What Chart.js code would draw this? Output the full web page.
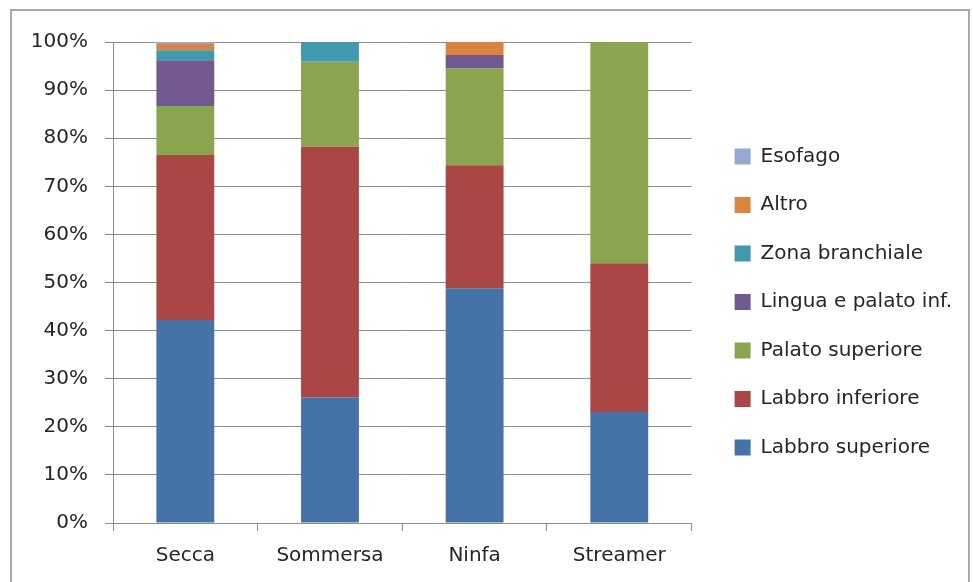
<!DOCTYPE html>
<html>
<head>
<meta charset="utf-8">
<script src="https://cdn.jsdelivr.net/npm/chart.js@4/dist/chart.umd.min.js"></script>
<style>
    html, body { margin: 0; padding: 0; background: #fff; }
    #wrap { position: relative; width: 973px; height: 582px; overflow: hidden; }
    #frame {
        position: absolute; left: 10px; top: 9px; width: 956px; height: 600px;
        border: 2px solid #a8a8a8;
    }
    #chart { position: absolute; left: 0; top: 0; }
</style>
</head>
<body>
<div id="wrap">
    <div id="frame"></div>
    <canvas id="chart" width="973" height="582"></canvas>
</div>
<script>
// Bait types on the x axis
const categories = ['Secca', 'Sommersa', 'Ninfa', 'Streamer'];

// Hook position shares (%), one array per zone, stacked bottom to top
const labbroSuperiore = [42.2, 26.1, 48.8, 23.1];
const labbroInferiore = [34.3, 52.1, 25.6, 30.9];
const palatoSuperiore = [10.2, 17.7, 20.1, 46.0];
const linguaPalatoInf = [9.5, 0, 2.8, 0];
const zonaBranchiale = [2.1, 4.1, 0, 0];
const altro = [1.3, 0, 2.7, 0];
const esofago = [0.4, 0, 0, 0];

const yTicks = [0, 10, 20, 30, 40, 50, 60, 70, 80, 90, 100];

const series = [
    { label: 'Labbro superiore', data: labbroSuperiore, color: '#4572a7' },
    { label: 'Labbro inferiore', data: labbroInferiore, color: '#aa4643' },
    { label: 'Palato superiore', data: palatoSuperiore, color: '#89a54e' },
    { label: 'Lingua e palato inf.', data: linguaPalatoInf, color: '#71588f' },
    { label: 'Zona branchiale', data: zonaBranchiale, color: '#4198af' },
    { label: 'Altro', data: altro, color: '#db843d' },
    { label: 'Esofago', data: esofago, color: '#93a9cf' }
];

const gridColor = '#8c8c8c';
const textColor = '#262626';
const font = { family: '"DejaVu Sans", sans-serif', size: 20 };

new Chart(document.getElementById('chart').getContext('2d'), {
    type: 'bar',
    data: {
        labels: categories,
        datasets: series.map(s => ({
            label: s.label,
            data: s.data,
            backgroundColor: s.color,
            borderWidth: 0,
            barPercentage: 0.4,
            categoryPercentage: 1
        }))
    },
    options: {
        responsive: false,
        animation: false,
        layout: { padding: { left: 0, top: 42, right: 11, bottom: 20 } },
        plugins: {
            tooltip: { enabled: false },
            legend: {
                position: 'right',
                reverse: true,
                maxWidth: 320,
                labels: {
                    color: textColor,
                    font: font,
                    boxWidth: 16,
                    boxHeight: 16,
                    padding: 28.5
                }
            }
        },
        scales: {
            x: {
                stacked: true,
                afterFit: scale => { scale.height = 39; },
                grid: {
                    display: true,
                    offset: true,
                    drawOnChartArea: false,
                    color: gridColor,
                    tickLength: 8
                },
                border: { color: gridColor },
                ticks: { color: textColor, font: font, padding: 13 }
            },
            y: {
                stacked: true,
                min: 0,
                max: 100,
                afterFit: scale => { scale.width = 113; },
                afterBuildTicks: scale => {
                    scale.ticks = yTicks.map(v => ({ value: v }));
                },
                grid: { color: gridColor, tickLength: 8 },
                border: { color: gridColor },
                ticks: {
                    color: textColor,
                    font: font,
                    padding: 17,
                    callback: v => v + '%'
                }
            },
            // empty right axis, only keeps a gap before the legend
            gap: {
                position: 'right',
                afterFit: scale => { scale.width = 14.5; },
                grid: { display: false },
                border: { display: false },
                ticks: { display: false }
            }
        }
    }
});
</script>
</body>
</html>
